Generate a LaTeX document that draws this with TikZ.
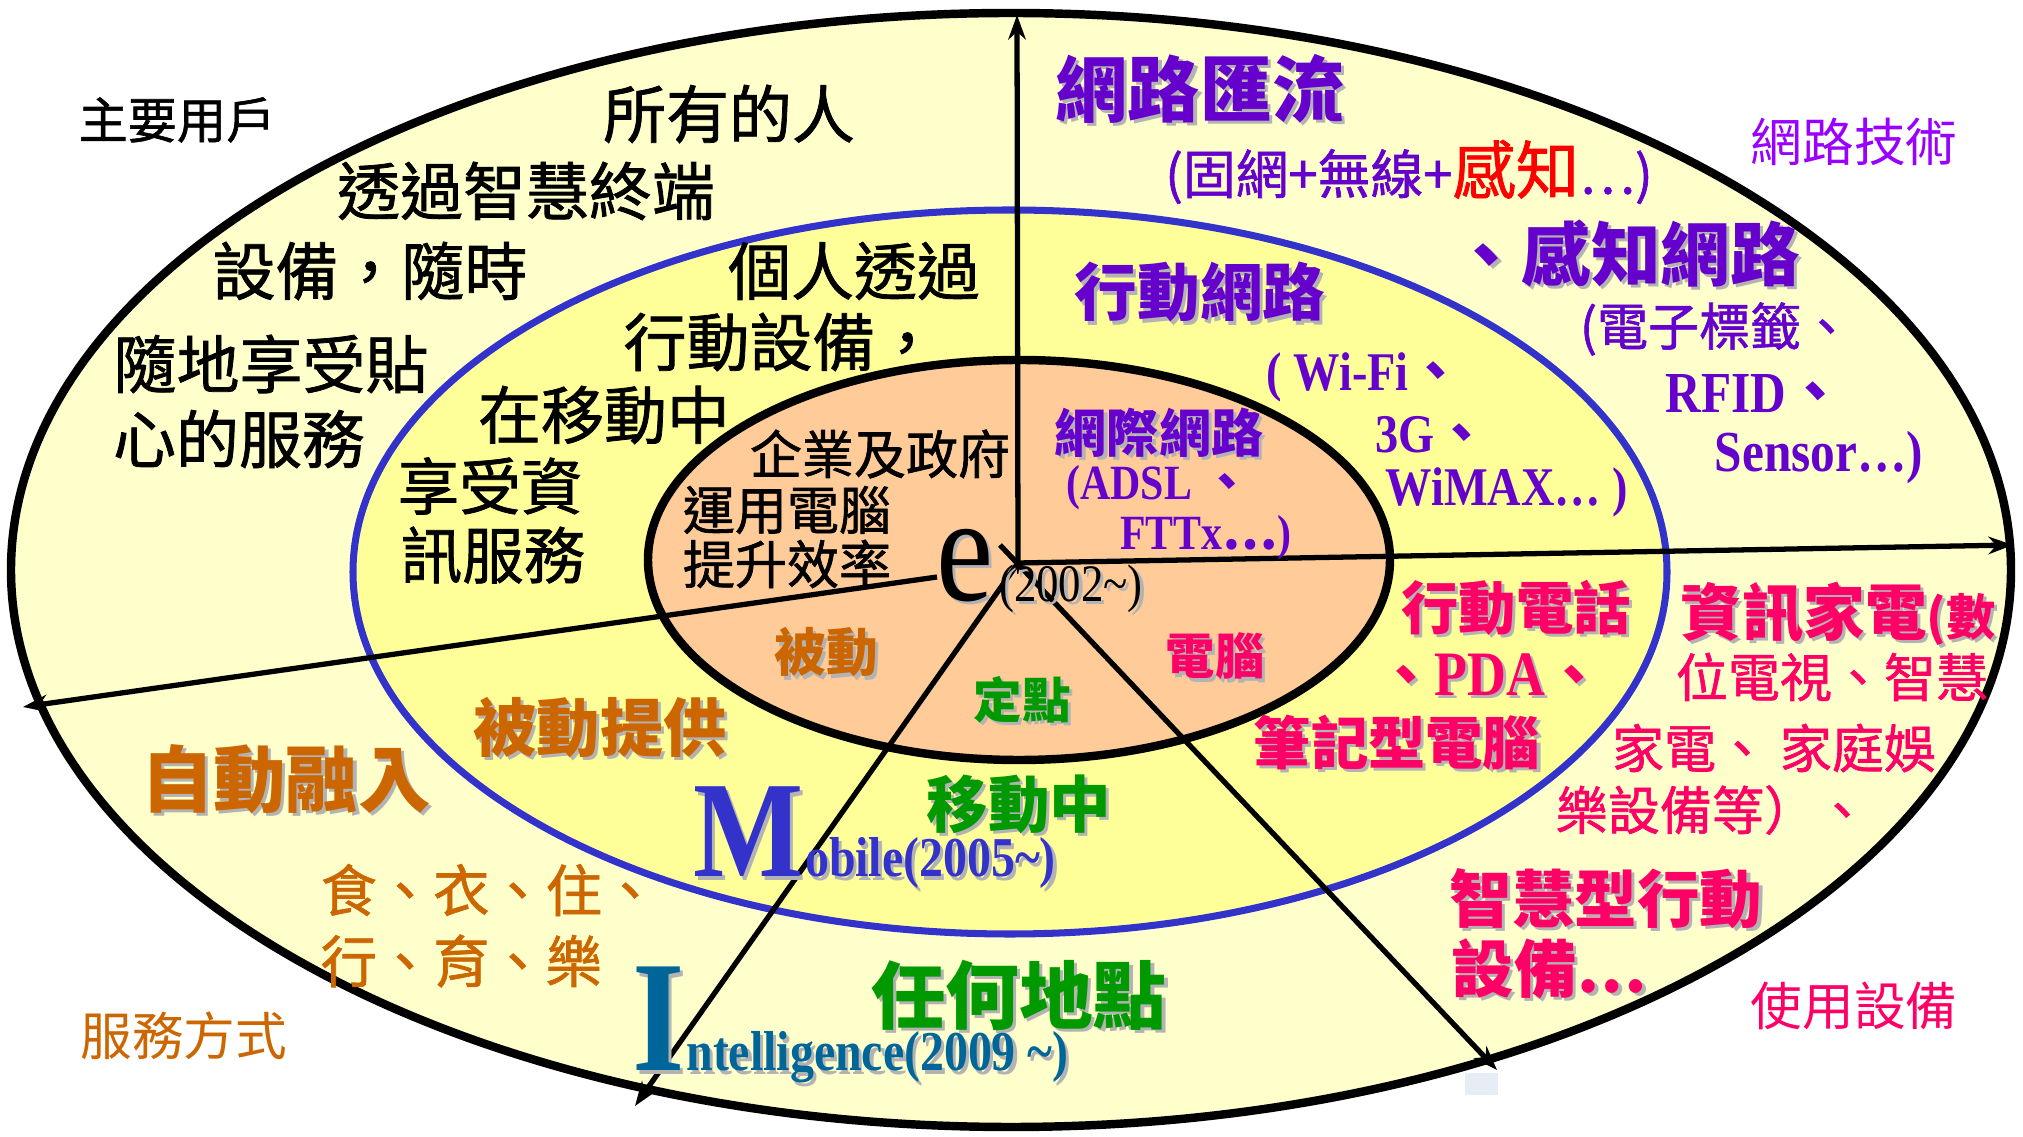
\documentclass[tikz,border=0pt]{standalone}
\usepackage{fontspec}
\setmainfont{Liberation Serif}
\newfontfamily\cjk{Noto Sans CJK TC}
\newfontfamily\cjkm[FakeBold=1.2]{Noto Sans CJK TC}
\newfontfamily\tms[FakeStretch=0.85]{Liberation Serif}
\usetikzlibrary{arrows.meta}
\definecolor{outerfill}{HTML}{FFFFCC}
\definecolor{midfill}{HTML}{FFFF99}
\definecolor{innerfill}{HTML}{FFCC99}
\definecolor{blueline}{HTML}{3333CC}
\definecolor{purp}{HTML}{6600CC}
\definecolor{purp2}{HTML}{9900FF}
\definecolor{pinkc}{HTML}{FF0066}
\definecolor{redc}{HTML}{FF0000}
\definecolor{orng}{HTML}{CC6600}
\definecolor{grn}{HTML}{009900}
\definecolor{mblue}{HTML}{3333CC}
\definecolor{iteal}{HTML}{006699}
\definecolor{shadowc}{HTML}{B3B3B3}
\definecolor{faint}{HTML}{E6EDF4}
\newcommand\shd[2]{\leavevmode\rlap{\kern0.9pt\raisebox{-0.9pt}{\textcolor{shadowc}{#2}}}\textcolor{#1}{#2}}
\tikzset{
  lbl/.style={inner sep=0pt, anchor=center},
  ck/.style={lbl, font=\cjk\fontsize{#1}{#1}\selectfont},
  ckm/.style={lbl, font=\cjkm\fontsize{#1}{#1}\selectfont},
  ckb/.style={lbl, font=\cjk\bfseries\fontsize{#1}{#1}\selectfont},
  lt/.style={lbl, font=\tms\fontsize{#1}{#1}\selectfont},
  ltb/.style={lbl, font=\tms\bfseries\fontsize{#1}{#1}\selectfont},
  axisline/.style={line width=1.5pt, -{Stealth[length=7pt,width=5pt]}},
}
\begin{document}
\begin{tikzpicture}[x=0.01cm,y=-0.01cm]
\useasboundingbox (0,0) rectangle (2023,1137);
\fill[white] (0,0) rectangle (2023,1137);
\fill[faint] (1465,1073) rectangle (1498,1095);
% ellipses
\draw[line width=2.4pt, fill=outerfill] (1011,570) ellipse [x radius=1000, y radius=557];
\draw[line width=2pt, draw=blueline, fill=midfill] (1010,572) ellipse [x radius=657, y radius=362];
\draw[line width=2.4pt, fill=innerfill] (1019,560) ellipse [x radius=371, y radius=200];
% axes
\coordinate (O) at (1018,563);
\coordinate (Ose) at (1000,545);
\coordinate (Ow) at (937,577);
\coordinate (Nend) at (1017,15);
\coordinate (Eend) at (2013,545);
\coordinate (Wend) at (23,707);
\coordinate (SWend) at (635,1106);
\coordinate (SEend) at (1497,1070);
\draw[axisline] (O) -- (Nend);
\draw[axisline] (O) -- (Eend);
\draw[axisline] (Ow) -- (Wend);
\draw[axisline] (O) -- (SWend);
\draw[axisline] (Ose) -- (SEend);
% outer-left users text
\node[ckm=14] (lab1) at (177,120) {主要用戶};
\node[ckm=17.9] (u1) at (729,114) {所有的人};
\node[ckm=17.9] (u2) at (526,191) {透過智慧終端};
\node[ckm=17.9] (u3) at (370,271) {設備，隨時};
\node[ckm=17.9] (u4) at (271,364) {隨地享受貼};
\node[ckm=17.9] (u5) at (239,439) {心的服務};
\node[ckm=17.9] (m1) at (854,271) {個人透過};
\node[ckm=17.9] (m2) at (781,342) {行動設備，};
\node[ckm=17.9] (m3) at (604,415) {在移動中};
\node[ckm=17.5] (m4) at (490,486) {享受資};
\node[ckm=17.5] (m5) at (493,555) {訊服務};
\node[ckm=14.8] (i1) at (880,454) {企業及政府};
\node[ckm=14.8] (i2) at (787,510) {運用電腦};
\node[ckm=14.8] (i3) at (787,564) {提升效率};
% e
\node[lt=43] (e) at (965,567) {\shd{black}{e}};
\node[lt=15] (yr) at (1071,590) {\shd{black}{(2002\textasciitilde)}};
% network text
\node[ckb=20.5] (p1) at (1200,90) {\shd{purp}{網路匯流}};
\node[ckm=15] (p2) at (1409,172) {\textcolor{purp}{(固網+無線+}\textcolor{redc}{\fontsize{18}{18}\selectfont 感知}\textcolor{purp}{⋯)}};
\node[ck=14.7, text=purp2] (lab2) at (1854,142) {網路技術};
\node[ckb=19.8] (p3) at (1626,255) {\shd{purp}{、感知網路}};
\node[ckm=14.5, text=purp] (p4) at (1716,329) {(電子標籤、};
\node[ltb=16.5, text=purp] (p5) at (1755,394) {RFID{\cjk 、}};
\node[ltb=16.5, text=purp] (p6) at (1819,458) {Sensor…)};
\node[ckb=17.8] (p7) at (1200,294) {\shd{purp}{行動網路}};
\node[ltb=15.5, text=purp] (p8) at (1365,377) {( Wi-Fi{\cjk 、}};
\node[ltb=15.5, text=purp] (p9) at (1432,435) {3G{\cjk 、}};
\node[ltb=15.5, text=purp] (p10) at (1507,492) {WiMAX… )};
\node[ckb=14.8] (p11) at (1159,434) {\shd{purp}{網際網路}};
\node[ltb=14, text=purp] (p12) at (1159,488) {(ADSL {\cjk 、}};
\node[ltb=14, text=purp] (p13) at (1206,538) {FTTx{\cjk ⋯})};
% devices text
\node[ckb=14] (k1) at (1215,658) {\shd{pinkc}{電腦}};
\node[ckb=16.3] (k2) at (1516,609) {\shd{pinkc}{行動電話}};
\node[ckb=16.3] (k3) at (1490,676) {\shd{pinkc}{、{\tms\fontsize{18}{18}\selectfont PDA}、}};
\node[ckb=16.3] (k4) at (1397,744) {\shd{pinkc}{筆記型電腦}};
\node[ckb=17.5] (k5) at (1838,615) {\shd{pinkc}{資訊家電{\fontsize{14}{14}\selectfont (數}}};
\node[ckm=14.8, text=pinkc] (k6) at (1832,677) {位電視、智慧};
\node[ckm=14.8, text=pinkc] (k7) at (1774,748) {家電、 家庭娛};
\node[ckm=14.8, text=pinkc] (k8) at (1712,810) {樂設備等）、};
\node[ckb=17.8] (k9) at (1606,900) {\shd{pinkc}{智慧型行動}};
\node[ckb=17.8, anchor=west] (k10) at (1451,970) {\shd{pinkc}{設備⋯}};
\node[ck=14.7, text=pinkc] (lab3) at (1854,1006) {使用設備};
% service text
\node[ckb=14.7] (o1) at (826,654) {\shd{orng}{被動}};
\node[ckb=18] (o2) at (600,729) {\shd{orng}{被動提供}};
\node[ckb=20.6] (o3) at (286,781) {\shd{orng}{自動融入}};
\node[ckm=16, text=orng, anchor=west] (o4) at (320,890) {食、衣、住、};
\node[ckm=16, text=orng, anchor=west] (o5) at (320,961) {行、育、樂};
\node[ck=14.7, text=orng] (lab4) at (184,1036) {服務方式};
% place text
\node[ckb=13.8] (g1) at (1022,701) {\shd{grn}{定點}};
\node[ckb=17.5] (g2) at (1019,806) {\shd{grn}{移動中}};
\node[ckb=21] (g3) at (1019,997) {\shd{grn}{任何地點}};
% M and I
\node[ltb=39, anchor=base west] (M) at (693,877) {\shd{mblue}{M}};
\node[ltb=16, anchor=base west] (Mt) at (M.base east) {\shd{mblue}{obile(2005\textasciitilde)}};
\node[ltb=45, anchor=base west] (I) at (632,1071) {\shd{iteal}{I}};
\node[ltb=16, anchor=base west] (It) at (I.base east) {\shd{iteal}{ntelligence(2009 \textasciitilde)}};
\end{tikzpicture}
\end{document}
